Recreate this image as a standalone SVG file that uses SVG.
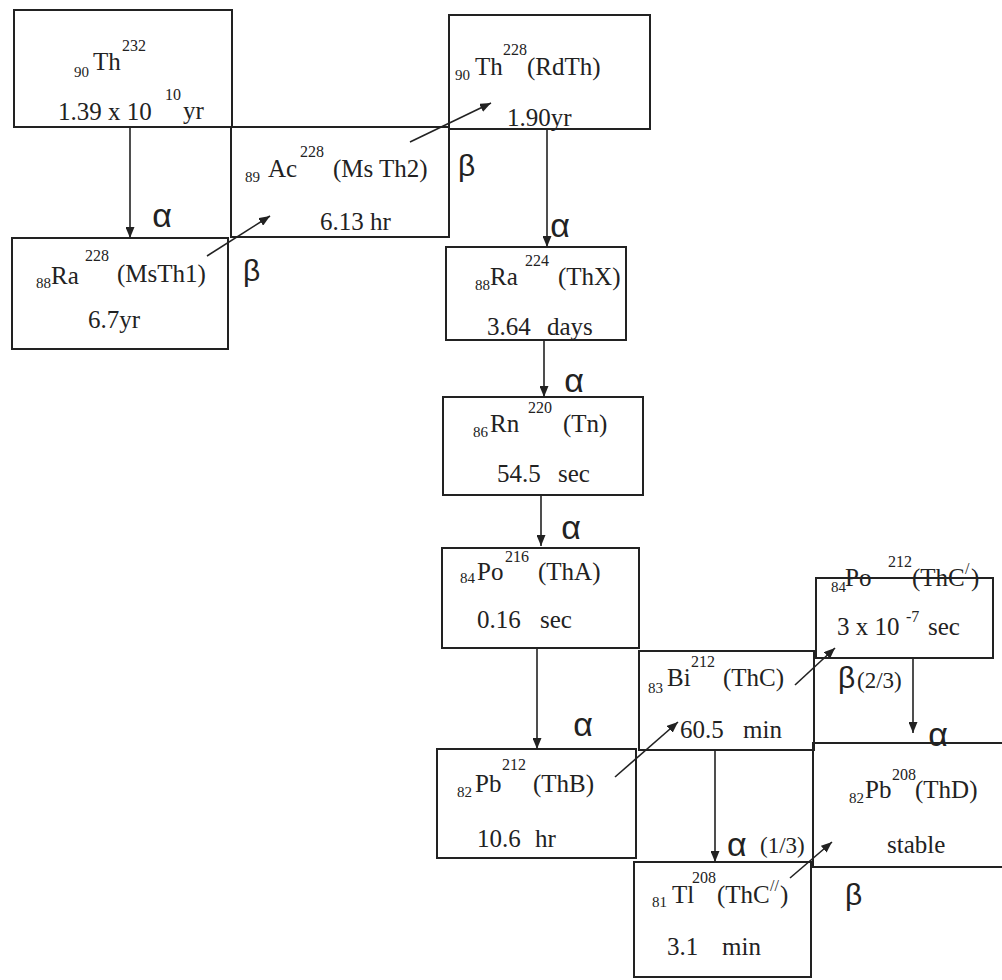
<svg xmlns="http://www.w3.org/2000/svg" width="1002" height="980" viewBox="0 0 1002 980">
<style>
.box{fill:none;stroke:#222;stroke-width:2}
.c{stroke:#222;stroke-width:1.6;fill:none}
text{font-family:"Liberation Serif","Times New Roman",serif;fill:#222}
.m{font-size:25px}
.sub{font-size:15px}
.sup{font-size:16px}
.g{font-family:"Liberation Sans",Arial,sans-serif;font-size:30px}
.a{font-family:"Liberation Sans",Arial,sans-serif;font-size:34px}
.gs{font-size:23px}
</style>
<defs>
<marker id="ah" markerUnits="userSpaceOnUse" markerWidth="11" markerHeight="9" refX="11" refY="4.5" orient="auto">
<path d="M0,0 L11,4.5 L0,9 z" fill="#222"/>
</marker>
</defs>
<rect width="1002" height="980" fill="#fff"/>

<g id="th232">
<rect class="box" x="14" y="10" width="218" height="117"/>
<text class="sub" x="74" y="77">90</text>
<text class="m" x="93" y="70">Th</text>
<text class="sup" x="122" y="51">232</text>
<text class="m" x="58" y="120">1.39 x 10</text>
<text class="sup" x="165" y="100">10</text>
<text class="m" x="183" y="119">yr</text>
</g>

<g id="ac228">
<rect class="box" x="231" y="127" width="218" height="110"/>
<text class="sub" x="245" y="182">89</text>
<text class="m" x="268" y="177">Ac</text>
<text class="sup" x="300" y="157">228</text>
<text class="m" x="333" y="177">(Ms Th2)</text>
<text class="m" x="320" y="230">6.13 hr</text>
</g>

<g id="th228">
<rect class="box" x="449" y="15" width="201" height="114"/>
<text class="sub" x="455" y="80">90</text>
<text class="m" x="475" y="75">Th</text>
<text class="sup" x="503" y="55">228</text>
<text class="m" x="527" y="75">(RdTh)</text>
<text class="m" x="507" y="126">1.90yr</text>
</g>

<g id="ra228">
<rect class="box" x="12" y="238" width="216" height="111"/>
<text class="sub" x="36" y="288">88</text>
<text class="m" x="51" y="284">Ra</text>
<text class="sup" x="85" y="261">228</text>
<text class="m" x="117" y="282">(MsTh1)</text>
<text class="m" x="88" y="328">6.7yr</text>
</g>

<g id="ra224">
<rect class="box" x="446" y="247" width="180" height="93"/>
<text class="sub" x="475" y="290">88</text>
<text class="m" x="490" y="285">Ra</text>
<text class="sup" x="525" y="266">224</text>
<text class="m" x="558" y="285">(ThX)</text>
<text class="m" x="487" y="335">3.64</text>
<text class="m" x="547" y="335">days</text>
</g>

<g id="rn220">
<rect class="box" x="443" y="397" width="200" height="98"/>
<text class="sub" x="473" y="437">86</text>
<text class="m" x="490" y="432">Rn</text>
<text class="sup" x="528" y="413">220</text>
<text class="m" x="563" y="432">(Tn)</text>
<text class="m" x="497" y="482">54.5</text>
<text class="m" x="558" y="482">sec</text>
</g>

<g id="po216">
<rect class="box" x="442" y="548" width="197" height="100"/>
<text class="sub" x="460" y="583">84</text>
<text class="m" x="477" y="580">Po</text>
<text class="sup" x="505" y="562">216</text>
<text class="m" x="538" y="580">(ThA)</text>
<text class="m" x="477" y="628">0.16</text>
<text class="m" x="540" y="628">sec</text>
</g>

<g id="bi212">
<rect class="box" x="639" y="651" width="175" height="99"/>
<text class="sub" x="648" y="693">83</text>
<text class="m" x="667" y="686">Bi</text>
<text class="sup" x="691" y="667">212</text>
<text class="m" x="723" y="686">(ThC)</text>
<text class="m" x="680" y="738">60.5</text>
<text class="m" x="743" y="738">min</text>
</g>

<g id="po212">
<rect class="box" x="816" y="578" width="177" height="80"/>
<text class="sub" x="831" y="592">84</text>
<text class="m" x="845" y="586">Po</text>
<text class="sup" x="888" y="567">212</text>
<text class="m" x="912" y="586">(ThC</text>
<text class="sup" x="965" y="574">/</text>
<text class="m" x="971" y="586">)</text>
<text class="m" x="837" y="635">3 x 10</text>
<text class="sup" x="906" y="622">-7</text>
<text class="m" x="928" y="635">sec</text>
</g>

<g id="pb212">
<rect class="box" x="437" y="749" width="199" height="109"/>
<text class="sub" x="457" y="797">82</text>
<text class="m" x="475" y="792">Pb</text>
<text class="sup" x="502" y="770">212</text>
<text class="m" x="533" y="792">(ThB)</text>
<text class="m" x="477" y="847">10.6</text>
<text class="m" x="535" y="847">hr</text>
</g>

<g id="pb208">
<rect class="box" x="813" y="743" width="200" height="124"/>
<text class="sub" x="849" y="803">82</text>
<text class="m" x="865" y="798">Pb</text>
<text class="sup" x="892" y="780">208</text>
<text class="m" x="915" y="798">(ThD)</text>
<text class="m" x="887" y="853">stable</text>
</g>

<g id="tl208">
<rect class="box" x="634" y="862" width="177" height="115"/>
<text class="sub" x="652" y="907">81</text>
<text class="m" x="672" y="903">Tl</text>
<text class="sup" x="692" y="883">208</text>
<text class="m" x="717" y="903">(ThC</text>
<text class="sup" x="770" y="891">//</text>
<text class="m" x="780" y="903">)</text>
<text class="m" x="667" y="955">3.1</text>
<text class="m" x="722" y="955">min</text>
</g>

<g id="connectors">
<line class="c" x1="130" y1="127" x2="130" y2="238" marker-end="url(#ah)"/>
<line class="c" x1="207" y1="256" x2="270" y2="216" marker-end="url(#ah)"/>
<line class="c" x1="410" y1="142" x2="491" y2="103" marker-end="url(#ah)"/>
<line class="c" x1="547" y1="129" x2="547" y2="247" marker-end="url(#ah)"/>
<line class="c" x1="544" y1="340" x2="544" y2="397" marker-end="url(#ah)"/>
<line class="c" x1="541" y1="495" x2="541" y2="546" marker-end="url(#ah)"/>
<line class="c" x1="537" y1="648" x2="537" y2="749" marker-end="url(#ah)"/>
<line class="c" x1="615" y1="777" x2="678" y2="722" marker-end="url(#ah)"/>
<line class="c" x1="795" y1="685" x2="835" y2="648" marker-end="url(#ah)"/>
<line class="c" x1="913" y1="658" x2="913" y2="733" marker-end="url(#ah)"/>
<line class="c" x1="715" y1="750" x2="715" y2="862" marker-end="url(#ah)"/>
<line class="c" x1="790" y1="878" x2="832" y2="842" marker-end="url(#ah)"/>
<text class="a" x="162" y="227" text-anchor="middle">α</text>
<text class="g" x="243" y="281">β</text>
<text class="g" x="458" y="176">β</text>
<text class="a" x="560" y="237" text-anchor="middle">α</text>
<text class="a" x="574" y="392" text-anchor="middle">α</text>
<text class="a" x="571" y="539" text-anchor="middle">α</text>
<text class="a" x="583" y="736" text-anchor="middle">α</text>
<text class="g" x="838" y="688">β</text>
<text class="gs" x="857" y="688">(2/3)</text>
<text class="a" x="938" y="746" text-anchor="middle">α</text>
<text class="a" x="727" y="856">α</text>
<text class="gs" x="760" y="853">(1/3)</text>
<text class="g" x="845" y="905">β</text>
</g>
</svg>
